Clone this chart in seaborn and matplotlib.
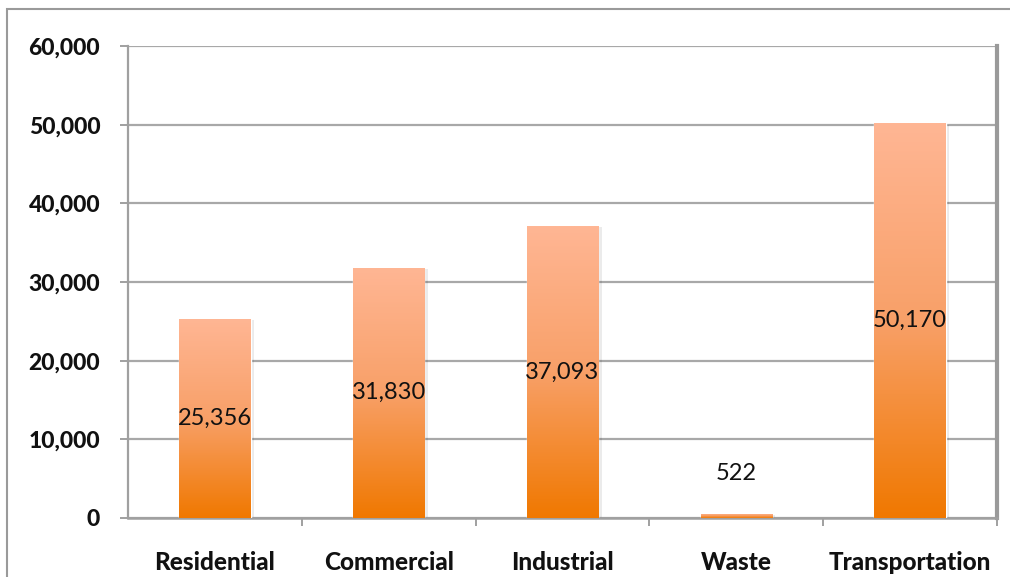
import numpy as np
import pandas as pd
import matplotlib
matplotlib.use("Agg")
import matplotlib.pyplot as plt
import seaborn as sns
from matplotlib.colors import LinearSegmentedColormap
from matplotlib.patches import Rectangle

categories = ["Residential", "Commercial", "Industrial", "Waste", "Transportation"]
values = [25356, 31830, 37093, 522, 50170]
y_ticks = [0, 10000, 20000, 30000, 40000, 50000, 60000]

sns.set_theme(style="white")
plt.rcParams['font.family'] = ['Lato', 'DejaVu Sans']

df = pd.DataFrame({"cat": categories, "val": values})

fig = plt.figure(figsize=(10.1, 5.77), dpi=100)
W, H = 1010, 577
ax = fig.add_axes([128 / W, (H - 518) / H, (997 - 128) / W, (518 - 46) / H])

fig.patches.append(Rectangle((7 / W, -0.1), 1.2, (H - 9) / H + 0.1, transform=fig.transFigure,
                             fill=False, edgecolor="#9a9a9a", linewidth=1.5, zorder=0))

sns.barplot(data=df, x="cat", y="val", color="#F4883A", width=0.41, ax=ax, zorder=3, saturation=1)

cmap = LinearSegmentedColormap.from_list("grad", ["#F07800", "#F8A068", "#FFB694"])
grad = np.linspace(0, 1, 256).reshape(-1, 1)
for p in ax.patches:
    x0, w, h = p.get_x(), p.get_width(), p.get_height()
    ax.add_patch(Rectangle((x0 + 0.02, 0), w, max(h - 150, 0), facecolor="#000000", alpha=0.08,
                           edgecolor="none", zorder=2))
    im = ax.imshow(grad, extent=[x0, x0 + w, 0, h], origin="lower", cmap=cmap,
                   aspect="auto", zorder=4)
    im.set_clip_path(p)
    p.set_facecolor("none")

ax.set_xlim(-0.5, 4.5)
ax.set_ylim(0, 60000)
ax.set_yticks(y_ticks, labels=[f"{v:,}" for v in y_ticks], fontsize=16.5,
              fontweight="black", color="#111111")
ax.grid(axis="y", color="#a8a8a8", linewidth=1.6, zorder=1)
ax.set_axisbelow(True)

ax.set_xlabel("")
ax.set_ylabel("")
ax.spines["top"].set_visible(False)
ax.spines["left"].set_color("#a0a0a0")
ax.spines["left"].set_linewidth(1.6)
ax.spines["bottom"].set_color("#a0a0a0")
ax.spines["bottom"].set_linewidth(1.8)
ax.spines["right"].set_color("#9a9a9a")
ax.spines["right"].set_linewidth(3)

ax.set_xticks(range(len(categories)), labels=categories, fontsize=17.5, fontweight="black",
              color="#111111")
ax.set_xticks([0.5, 1.5, 2.5, 3.5, 4.5], minor=True)
ax.tick_params(axis="x", which="major", length=0, pad=24)
ax.tick_params(axis="x", which="minor", length=6, width=1.4, color="#a0a0a0", direction="out", bottom=True)
ax.tick_params(axis="y", which="major", length=6, width=1.4, color="#a0a0a0", direction="out",
               pad=14, left=True)

for i, v in enumerate(values):
    if v > 5000:
        ax.text(i, v / 2, f"{v:,}", ha="center", va="center", fontsize=17, color="#111111", zorder=6)
    else:
        ax.annotate(f"{v:,}", (i, v), xytext=(0, 29), textcoords="offset points",
                    ha="center", va="center", fontsize=17, color="#111111", zorder=6)

fig.savefig("out.png", dpi=100)
